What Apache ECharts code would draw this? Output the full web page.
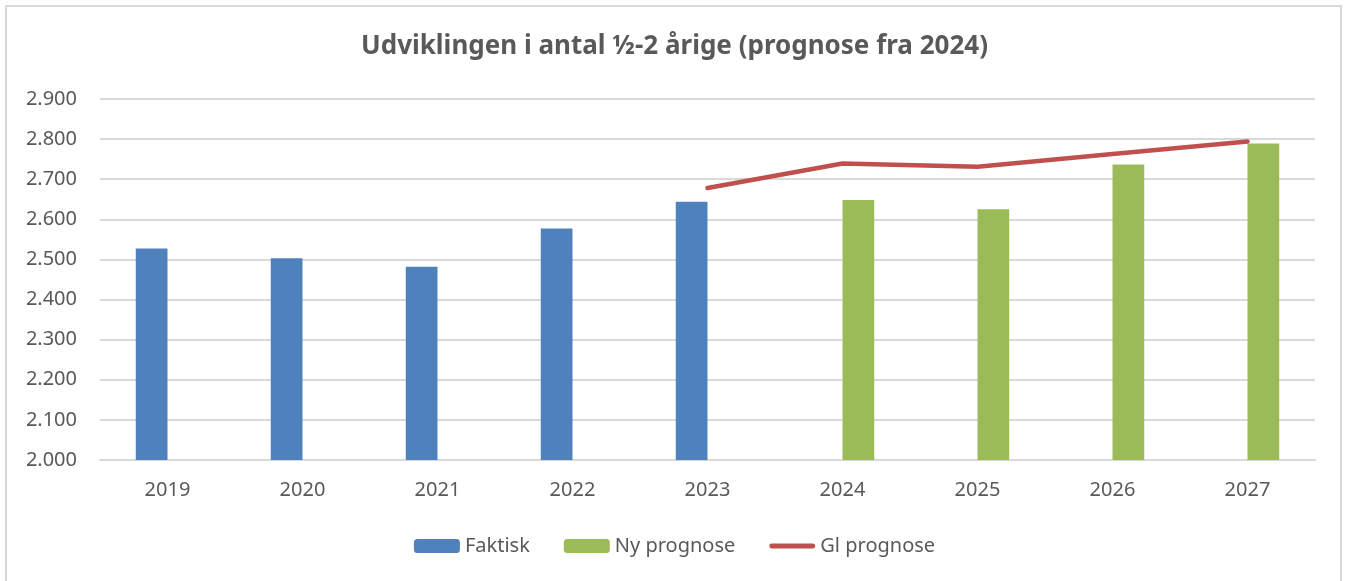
<!DOCTYPE html>
<html>
<head>
<meta charset="utf-8">
<script src="https://cdn.jsdelivr.net/npm/echarts@6/dist/echarts.min.js"></script>
<style>
html,body{margin:0;padding:0;background:#fff;overflow:hidden;}
#frame{position:absolute;left:5px;top:5px;width:1337px;height:600px;border:2px solid #d9d9d9;box-sizing:border-box;}
#chart{position:absolute;left:0;top:0;width:1349px;height:581px;}
</style>
</head>
<body>
<div id="frame"></div>
<div id="chart"></div>
<script>
const titleText = 'Udviklingen i antal ½-2 årige (prognose fra 2024)';
const categories = ['2019','2020','2021','2022','2023','2024','2025','2026','2027'];
const faktisk = [2527, 2503, 2482, 2577, 2644, null, null, null, null];
const nyPrognose = [null, null, null, null, null, 2648, 2625, 2737, 2789];
const glPrognose = [null, null, null, null, 2678, 2739, 2731, 2763, 2794];
const yMin = 2000, yMax = 2900, yStep = 100;

const fmt = v => String(v).replace(/\B(?=(\d{3})+(?!\d))/g, '.');
const font = 'Noto Sans';
const txt = '#595959';

const chart = echarts.init(document.getElementById('chart'), null, {renderer: 'canvas'});
chart.setOption({
  animation: false,
  backgroundColor: 'transparent',
  title: {
    text: titleText, left: 'center', top: 29,
    textStyle: {fontFamily: font, fontSize: 26, fontWeight: 'bold', color: txt}
  },
  legend: {
    bottom: 20, left: 'center', itemGap: 34, itemWidth: 46, itemHeight: 14,
    textStyle: {fontFamily: font, fontSize: 20, color: txt},
    data: [
      {name: 'Faktisk'},
      {name: 'Ny prognose'},
      {name: 'Gl prognose', icon: 'path://M2,0 L44,0 A2.5,2.5 0 0 1 44,5 L2,5 A2.5,2.5 0 0 1 2,0 Z'}
    ]
  },
  grid: {left: 100, right: 34, top: 99, bottom: 121, containLabel: false},
  xAxis: {
    type: 'category', data: categories,
    axisLine: {show: true, lineStyle: {color: '#d9d9d9', width: 2}},
    axisTick: {show: false},
    axisLabel: {fontFamily: font, fontSize: 20, color: txt, margin: 20}
  },
  yAxis: {
    type: 'value', min: yMin, max: yMax, interval: yStep,
    axisLine: {show: false}, axisTick: {show: false},
    splitLine: {lineStyle: {color: '#d9d9d9', width: 2}},
    axisLabel: {fontFamily: font, fontSize: 20, color: txt, margin: 23, formatter: fmt}
  },
  series: [
    {name: 'Faktisk', type: 'bar', data: faktisk, barWidth: '23.5%', barGap: '0%',
     itemStyle: {color: '#4f81bd'}},
    {name: 'Ny prognose', type: 'bar', data: nyPrognose, barWidth: '23.5%', barGap: '0%',
     itemStyle: {color: '#9bbb59'}},
    {name: 'Gl prognose', type: 'line', data: glPrognose, symbol: 'none', showSymbol: false,
     lineStyle: {color: '#c0504d', width: 4.5, cap: 'round', join: 'round'},
     itemStyle: {color: '#c0504d'}}
  ]
});
</script>
</body>
</html>
